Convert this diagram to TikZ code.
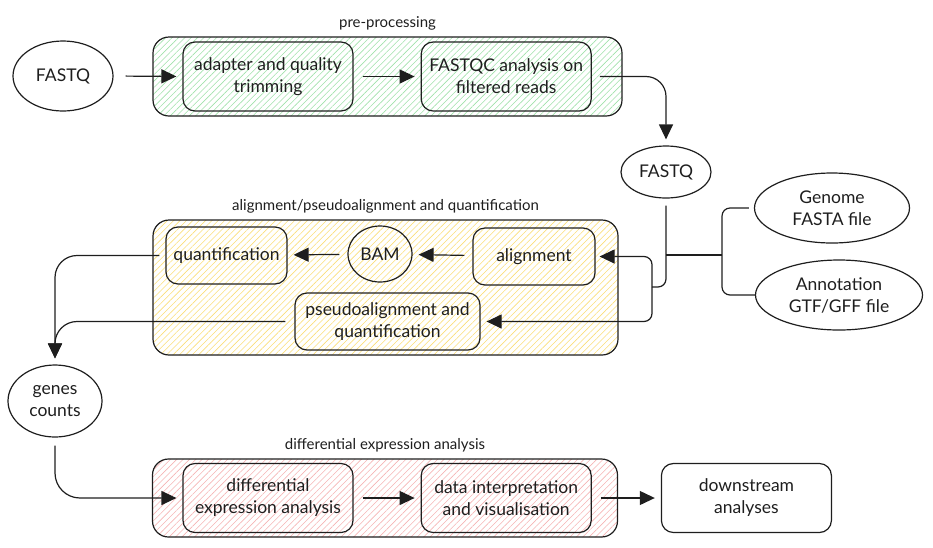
\documentclass[tikz,border=0pt]{standalone}
\usepackage{fontspec}
\setmainfont{Lato}
\usetikzlibrary{arrows.meta, positioning, shapes.geometric, patterns.meta}

\definecolor{ink}{RGB}{30,30,30}
\definecolor{hatchGreen}{RGB}{160,225,170}
\definecolor{hatchYellow}{RGB}{250,222,120}
\definecolor{hatchRed}{RGB}{245,180,180}

\begin{document}
\begin{tikzpicture}[x=1pt, y=-1pt, font=\fontsize{17.5}{22}\selectfont, color=ink]
			\tikzstyle{Step} = [rectangle, rounded corners=12pt, minimum width=170pt, minimum height=69pt, align=center, draw=ink, line width=1.2pt]
			\tikzstyle{Oval} = [ellipse, inner sep=0pt, align=center, draw=ink, line width=1.2pt]
			\tikzstyle{Group} = [rectangle, rounded corners=16pt, draw=ink, line width=1.2pt, pattern={Lines[angle=45, distance=4.5pt, line width=0.6pt]}]
			\tikzstyle{Label} = [font=\fontsize{15}{18}\selectfont]
			\tikzstyle{link} = [line width=1.2pt, draw=ink]
			\tikzstyle{arrow} = [line width=1.2pt, draw=ink, -{Triangle[length=15pt, width=14pt]}, shorten >=6pt]
			
			\useasboundingbox (0,0) rectangle (933,547);
			
			% pre-processing
			\node (fastqIn) [Oval, minimum width=100pt, minimum height=70pt] at (63,76) {FASTQ};
			\node (preGroup) [Group, pattern color=hatchGreen, minimum width=469pt, minimum height=79pt] at (387.5,76.5) {};
			\node (preLabel) [Label, above = 3pt of preGroup] {pre-processing};
			\node (trimming) [Step] at (268,76.5) {adapter and quality\\trimming};
			\node (fastqc) [Step, right = 67pt of trimming] {FASTQC analysis on\\filtered reads};
			
			% inputs
			\node (fastqMid) [Oval, minimum width=90pt, minimum height=52pt] at (666,172) {FASTQ};
			\node (genome) [Oval, minimum width=155pt, minimum height=70pt] at (832,208) {Genome\\FASTA file};
			\node (annotation) [Oval, minimum width=167pt, minimum height=70pt] at (839,295) {Annotation\\GTF/GFF file};
			\coordinate (refJoin) at (722,255);
			\coordinate (readSplit) at (652,287);
			
			% alignment
			\node (alignGroup) [Group, pattern color=hatchYellow, minimum width=465pt, minimum height=135pt] at (385.5,287.5) {};
			\node (alignLabel) [Label, above = 3pt of alignGroup] {alignment/pseudoalignment and quantification};
			\node (alignment) [Step, minimum width=122pt, minimum height=57pt] at (534,256.5) {alignment};
			\node (bam) [Oval, minimum width=64pt, minimum height=56pt] at (380,254) {BAM};
			\node (quantification) [Step, minimum width=121pt, minimum height=57pt] at (226.5,255.5) {quantification};
			\node (pseudo) [Step, minimum width=185pt, minimum height=57pt] at (387.5,321.5) {pseudoalignment and\\quantification};
			
			\node (genes) [Oval, minimum width=94pt, minimum height=72pt] at (55,401) {genes\\counts};
			
			% differential expression
			\node (deGroup) [Group, pattern color=hatchRed, minimum width=465pt, minimum height=78pt] at (385,498) {};
			\node (deLabel) [Label, above = 3pt of deGroup] {differential expression analysis};
			\node (diffExpr) [Step] at (268,498) {differential\\expression analysis};
			\node (interpretation) [Step, right = 67pt of diffExpr] {data interpretation\\and visualisation};
			\node (downstream) [Step, right = 69pt of interpretation] {downstream\\analyses};
			
			
			\draw[arrow, shorten <=12pt] (fastqIn.east) -- (trimming.west);
			\draw[arrow, shorten <=9pt] (trimming) -- (fastqc);
			\draw[arrow, shorten <=8pt, rounded corners=20pt] (fastqc.east) -| (fastqMid.north);
			\draw[link, shorten <=5pt, rounded corners=8pt] (genome.west) -| (refJoin) |- (annotation.west);
			\draw[link] (refJoin) -- (refJoin -| fastqMid.south);
			\draw[link, shorten <=7pt, rounded corners=8pt] (fastqMid.south) |- (readSplit);
			\draw[arrow, shorten >=4pt, rounded corners=8pt] (readSplit) |- (alignment.east);
			\draw[arrow, rounded corners=8pt] (readSplit) |- (pseudo.east);
			\draw[arrow, shorten <=8pt] (alignment) -- (bam);
			\draw[arrow, shorten <=8pt] (bam) -- (quantification);
			\draw[arrow, shorten <=6pt, rounded corners=22pt] (quantification.west) -| (genes.north);
			\draw[arrow, shorten <=9pt, rounded corners=22pt] (pseudo.west) -| (genes.north);
			\draw[arrow, shorten <=8pt, rounded corners=25pt] (genes.south) |- (diffExpr.west);
			\draw[arrow, shorten <=9pt] (diffExpr) -- (interpretation);
			\draw[arrow, shorten <=9pt] (interpretation) -- (downstream);
		\end{tikzpicture}
\end{document}
